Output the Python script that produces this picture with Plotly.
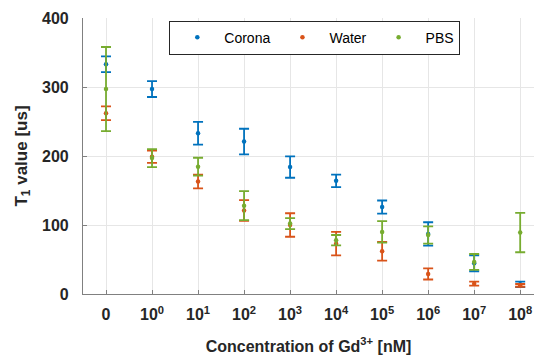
import plotly.graph_objects as go

x_idx = list(range(10))
tick_labels = ["0", "10<sup>0</sup>", "10<sup>1</sup>", "10<sup>2</sup>", "10<sup>3</sup>",
               "10<sup>4</sup>", "10<sup>5</sup>", "10<sup>6</sup>", "10<sup>7</sup>", "10<sup>8</sup>"]

corona_mean = [333, 297, 233, 221, 184, 164, 126, 87, 44.5, 14]
corona_err = [11.5, 11.5, 16.5, 18.5, 15.5, 9, 9.5, 17, 11.5, 4]

water_mean = [262, 199, 163, 121, 100, 73, 62, 29, 15, 12.5]
water_err = [10, 9, 10, 15, 17, 17, 13.5, 8, 3, 2]

pbs_mean = [297, 197, 184.5, 128, 102, 78, 90, 85.5, 46.5, 89]
pbs_err = [61, 13, 13, 21, 8, 7.5, 15.5, 12.5, 11.5, 28.5]

series = [
    ("Corona", corona_mean, corona_err, "#0072BD"),
    ("Water", water_mean, water_err, "#D95319"),
    ("PBS", pbs_mean, pbs_err, "#77AC30"),
]

fig = go.Figure()
for name, m, e, c in series:
    fig.add_trace(go.Scatter(
        x=x_idx, y=m, name=name, mode="markers",
        marker=dict(color=c, size=4.5),
        error_y=dict(type="data", array=e, visible=True, color=c, thickness=1.8, width=5),
    ))

font = "Liberation Sans, Arial, sans-serif"
fig.update_layout(
    width=538, height=359,
    margin=dict(l=83, r=4, t=18, b=65),
    paper_bgcolor="white", plot_bgcolor="white",
    font=dict(family=font, color="#262626"),
    showlegend=True,
    legend=dict(orientation="h", x=0.514, y=0.99, xanchor="center", yanchor="top",
                bordercolor="#262626", borderwidth=1, bgcolor="white",
                font=dict(size=14, family=font, color="#000000"),
                itemwidth=44, tracegroupgap=0),
    xaxis=dict(range=[-0.5, 9.3], tickmode="array", tickvals=x_idx, ticktext=tick_labels,
               showgrid=True, gridcolor="#e6e6e6", gridwidth=1,
               showline=True, linecolor="#808080", linewidth=1.2,
               ticks="inside", ticklen=4, tickcolor="#808080",
               ticklabelstandoff=6,
               tickfont=dict(size=16, family=font, color="#262626", weight="bold"),
               title=dict(text="<b>Concentration of Gd<sup>3+</sup> [nM]</b>",
                          font=dict(size=16, family=font, color="#262626"), standoff=18),
               zeroline=False),
    yaxis=dict(range=[0, 400], tickvals=[0, 100, 200, 300, 400],
               showgrid=True, gridcolor="#e6e6e6", gridwidth=1,
               showline=True, linecolor="#808080", linewidth=1.2,
               ticks="inside", ticklen=4, tickcolor="#808080",
               ticklabelstandoff=10,
               tickfont=dict(size=16, family=font, color="#262626", weight="bold"),
               title=dict(text="<b>T<sub>1</sub> value [us]</b>",
                          font=dict(size=17, family=font, color="#262626"), standoff=10),
               zeroline=False),
)

fig.write_html("out.html")
